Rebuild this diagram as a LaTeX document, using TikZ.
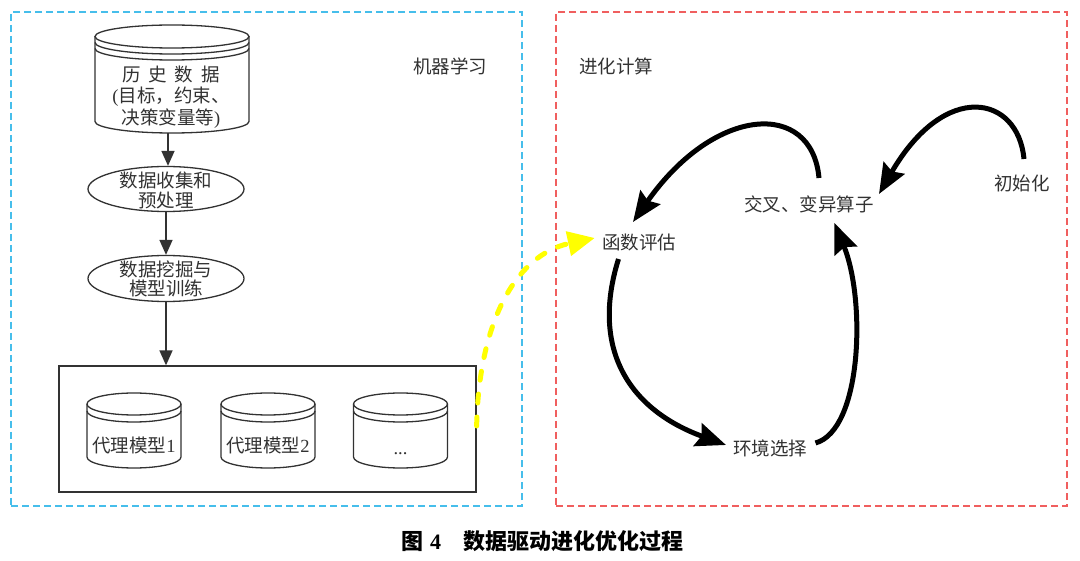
\documentclass[tikz,border=0pt]{standalone}
\usepackage{fontspec}
\setmainfont{Liberation Serif}
\newfontfamily\cjk{Noto Sans CJK SC}
\usetikzlibrary{arrows.meta,shapes.geometric}
\definecolor{txt}{RGB}{50,50,50}
\definecolor{mlblue}{RGB}{70,190,235}
\definecolor{ecred}{RGB}{240,95,95}
\definecolor{ylw}{RGB}{255,255,0}
\begin{document}
\begin{tikzpicture}[x=1pt,y=-1pt,
  lab/.style={font=\cjk\fontsize{18.5}{21}\selectfont, text=txt, inner sep=0pt},
  thinline/.style={draw=txt, line width=1.3pt},
  flow/.style={draw=txt, line width=1.5pt, -{Triangle[length=15pt,width=13pt]}},
  evo/.style={draw=black, line width=5pt, -{Stealth[length=30pt,width=24pt,inset=4pt]}},
  region/.style={line width=1.3pt, dash pattern=on 7pt off 4pt, inner sep=0pt},
  hint/.style={inner sep=0pt, draw=none},
]
\useasboundingbox (0,0) rectangle (1080,561);
\fill[white] (0,0) rectangle (1080,561);

% regions
\node[region, draw=mlblue, minimum width=511pt, minimum height=494pt] (mlregion) at (266.5,259) {};
\node[region, draw=ecred, minimum width=511pt, minimum height=494pt] (ecregion) at (811.5,259) {};
\node[lab] (ml) at (450,66) {机器学习};
\node[lab] (ec) at (616,66) {进化计算};

% history cylinder
\draw[thinline] (95,36.5) -- (95,121.5) arc[start angle=180,end angle=360,x radius=77pt,y radius=11.5pt] -- (249,36.5);
\draw[thinline] (172,36.5) ellipse[x radius=77pt, y radius=11.5pt];
\draw[thinline] (95,42.5) arc[start angle=180,end angle=360,x radius=77pt,y radius=11.5pt];
\draw[thinline] (95,48.5) arc[start angle=180,end angle=360,x radius=77pt,y radius=11.5pt];
\node[hint, minimum width=154pt, minimum height=108pt] (hist) at (172,79) {};
\node[lab, align=center, font=\cjk\fontsize{18.5}{21.5}\selectfont] (histtext) at (171,97)
  {历\hspace{8pt}史\hspace{8pt}数\hspace{8pt}据\\{\rmfamily(}目标，约束、\\决策变量等{\rmfamily)}};

% ellipses
\node[ellipse, draw=txt, line width=1.3pt, minimum width=156pt, minimum height=45pt, inner sep=0pt] (e1) at (166,189) {};
\node[lab, align=center, font=\cjk\fontsize{18.5}{20}\selectfont] (e1text) at (166,190) {数据收集和\\预处理};
\node[ellipse, draw=txt, line width=1.3pt, minimum width=156pt, minimum height=46pt, inner sep=0pt] (e2) at (166,278.5) {};
\node[lab, align=center, font=\cjk\fontsize{18.5}{19}\selectfont] (e2text) at (166,279) {数据挖掘与\\模型训练};

% model box
\node[draw=txt, line width=1.3pt, minimum width=417pt, minimum height=126pt, inner sep=0pt] (mbox) at (267.5,429) {};

\foreach \cx in {134,268,400.5}{
  \draw[thinline] ({\cx-47},404) -- ({\cx-47},457) arc[start angle=180,end angle=360,x radius=47pt,y radius=11pt] -- ({\cx+47},404);
  \draw[thinline] (\cx,404) ellipse[x radius=47pt, y radius=11pt];
  \draw[thinline] ({\cx-47},411) arc[start angle=180,end angle=360,x radius=47pt,y radius=11pt];
}
\node[lab] (m1) at (134,445) {代理模型{\rmfamily 1}};
\node[lab] (m2) at (268,445) {代理模型{\rmfamily 2}};
\node[lab, anchor=base] (m3) at (400.5,454) {\rmfamily ...};

% left flow arrows
\draw[flow] ([xshift=2pt]e1.north |- hist.south) -- ([xshift=2pt]e1.north);
\draw[flow] (e1.south) -- (e2.north);
\draw[flow] (e2.south) -- (e2.south |- mbox.north);

% right side nodes
\node[lab] (eval) at (639,242) {函数评估};
\node[lab] (cross) at (809,204) {交叉、变异算子};
\node[lab] (init) at (1022,183) {初始化};
\node[lab] (env) at (770,448) {环境选择};

% evolution arrows
\draw[evo] ([shift={(10,-26)}]cross.center) .. controls +(-7,-78) and +(82,-117) .. ([shift={(-6,-20)}]eval.center);
\draw[evo] ([shift={(2,-24)}]init.center) .. controls +(-6,-64) and +(66,-114) .. ([shift={(70,-10)}]cross.center);
\draw[evo] ([shift={(-20.5,17)}]eval.center) .. controls +(-28.5,91) and +(-96,-35) .. ([shift={(-44,-3)}]env.center);
\draw[evo] ([shift={(45.5,-5)}]env.center) .. controls +(46.5,-13) and +(31.6,77) .. ([shift={(25.4,19)}]cross.center);

% yellow link
\draw[draw=ylw, line width=5pt, line cap=round, dash pattern=on 9pt off 14pt, -{Triangle[length=27pt,width=24pt]}]
  ([yshift=3pt]mbox.east) .. controls +(2,-102) and +(-80,17) .. ([shift={(-7,-4)}]eval.west);

% caption
\node[font=\cjk\bfseries\fontsize{22}{24}\selectfont, text=black, inner sep=0pt] (cap) at (542,541)
  {图\hspace{7pt}{\rmfamily\bfseries 4}\hspace{22pt}数据驱动进化优化过程};
\end{tikzpicture}
\end{document}
